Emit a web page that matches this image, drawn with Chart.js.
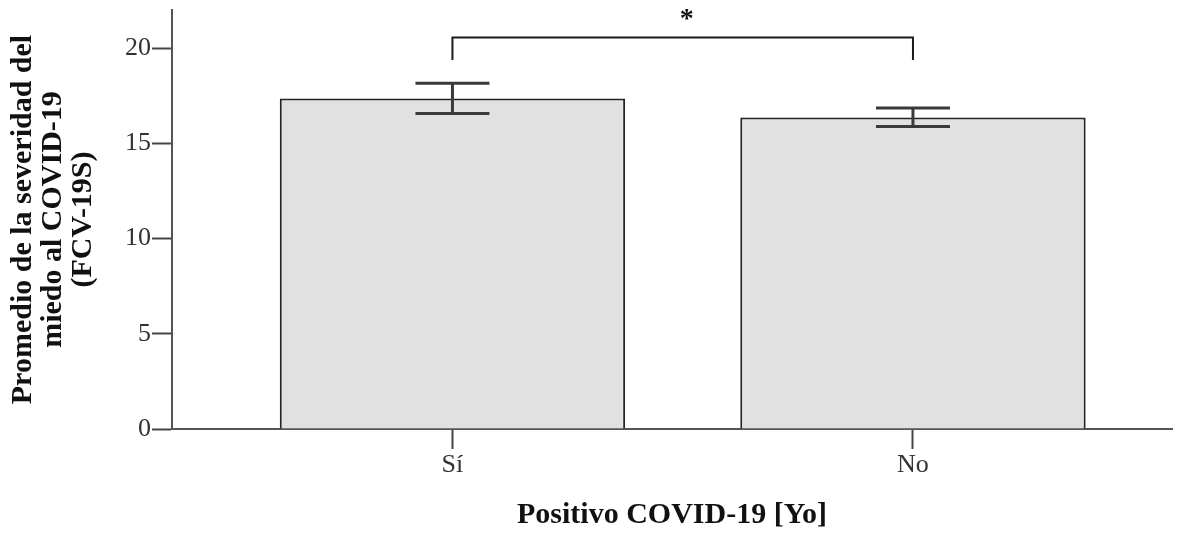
<!DOCTYPE html>
<html>
<head>
<meta charset="utf-8">
<script src="https://cdn.jsdelivr.net/npm/chart.js@4.4.1/dist/chart.umd.min.js"></script>
<style>
    html, body { margin: 0; padding: 0; background: #ffffff; }
    #wrap { width: 1178px; height: 537px; }
</style>
</head>
<body>
<div id="wrap"><canvas id="chart_fcv"></canvas></div>
<script>
    // data
    const categories = ['Sí', 'No'];
    const means = [17.35, 16.36];
    const err_low = [16.56, 15.88];
    const err_high = [18.16, 16.85];
    const y_ticks = [0, 5, 10, 15, 20];
    const bracket_top = 20.56;
    const bracket_drop = 19.38;
    const star_value = 21.8;

    const serif = "'Liberation Serif', 'Times New Roman', serif";

    const errorBars = {
        id: 'errorBars',
        afterDatasetsDraw(chart) {
            const ctx = chart.ctx;
            const xs = chart.scales.x;
            const ys = chart.scales.y;
            ctx.save();
            ctx.strokeStyle = '#3a3a3a';
            ctx.lineWidth = 3;
            for (let i = 0; i < categories.length; i++) {
                const x = xs.getPixelForValue(i + 1);
                const yh = ys.getPixelForValue(err_high[i]);
                const yl = ys.getPixelForValue(err_low[i]);
                ctx.beginPath();
                ctx.moveTo(x, yh);
                ctx.lineTo(x, yl);
                ctx.moveTo(x - 37, yh);
                ctx.lineTo(x + 37, yh);
                ctx.moveTo(x - 37, yl);
                ctx.lineTo(x + 37, yl);
                ctx.stroke();
            }
            // significance bracket
            const x1 = xs.getPixelForValue(1);
            const x2 = xs.getPixelForValue(2);
            const yt = ys.getPixelForValue(bracket_top);
            const yd = ys.getPixelForValue(bracket_drop);
            ctx.strokeStyle = '#1a1a1a';
            ctx.lineWidth = 2;
            ctx.beginPath();
            ctx.moveTo(x1, yd);
            ctx.lineTo(x1, yt);
            ctx.lineTo(x2, yt);
            ctx.lineTo(x2, yd);
            ctx.stroke();
            ctx.fillStyle = '#111';
            ctx.font = 'bold 28px ' + serif;
            ctx.textAlign = 'center';
            ctx.textBaseline = 'middle';
            ctx.fillText('*', (x1 + x2) / 2 + 4, ys.getPixelForValue(star_value) + 6);
            ctx.restore();
        }
    };

    new Chart(document.getElementById('chart_fcv'), {
        type: 'bar',
        data: {
            datasets: [{
                label: 'FCV-19S',
                data: means.map((v, i) => ({x: i + 1, y: v})),
                backgroundColor: '#e1e1e1',
                borderColor: '#222222',
                borderWidth: 2,
                barPercentage: 0.75,
                categoryPercentage: 1
            }]
        },
        options: {
            responsive: true,
            maintainAspectRatio: false,
            animation: false,
            layout: {
                padding: {top: 10, right: 6, left: 0, bottom: 0}
            },
            plugins: {
                legend: { display: false },
                tooltip: { enabled: false }
            },
            scales: {
                x: {
                    type: 'linear',
                    offset: false,
                    min: 0.391,
                    max: 2.5625,
                    afterBuildTicks: (scale) => {
                        scale.ticks = categories.map((c, i) => ({value: i + 1}));
                    },
                    afterFit: (scale) => {
                        scale.height = 108;
                        scale.paddingLeft = 0;
                        scale.paddingRight = 0;
                    },
                    ticks: {
                        autoSkip: false,
                        maxRotation: 0,
                        padding: 1,
                        color: '#333',
                        font: { family: serif, size: 26 },
                        callback: (v) => categories[v - 1]
                    },
                    grid: {
                        offset: false,
                        drawOnChartArea: false,
                        tickLength: 20,
                        tickWidth: 2,
                        tickColor: '#444'
                    },
                    border: { color: '#555', width: 2 },
                    title: {
                        display: true,
                        text: 'Positivo COVID-19 [Yo]',
                        color: '#111',
                        font: { family: serif, size: 30, weight: 'bold', lineHeight: 1 },
                        padding: { top: 0, bottom: 7 }
                    }
                },
                y: {
                    min: 0,
                    max: 22,
                    afterBuildTicks: (scale) => {
                        scale.ticks = y_ticks.map(v => ({value: v}));
                    },
                    afterFit: (scale) => {
                        scale.width = 172;
                        scale.paddingTop = 0;
                        scale.paddingBottom = 0;
                    },
                    ticks: {
                        padding: 1,
                        color: '#333',
                        font: { family: serif, size: 26 }
                    },
                    grid: {
                        drawOnChartArea: false,
                        tickLength: 20,
                        tickWidth: 2,
                        tickColor: '#444'
                    },
                    border: { color: '#555', width: 2 },
                    title: {
                        display: true,
                        text: ['Promedio de la severidad del', 'miedo al COVID-19', '(FCV-19S)'],
                        color: '#111',
                        font: { family: serif, size: 30, weight: 'bold', lineHeight: 1 },
                        padding: { top: 8, bottom: 0 }
                    }
                }
            }
        },
        plugins: [errorBars]
    });
</script>
</body>
</html>
